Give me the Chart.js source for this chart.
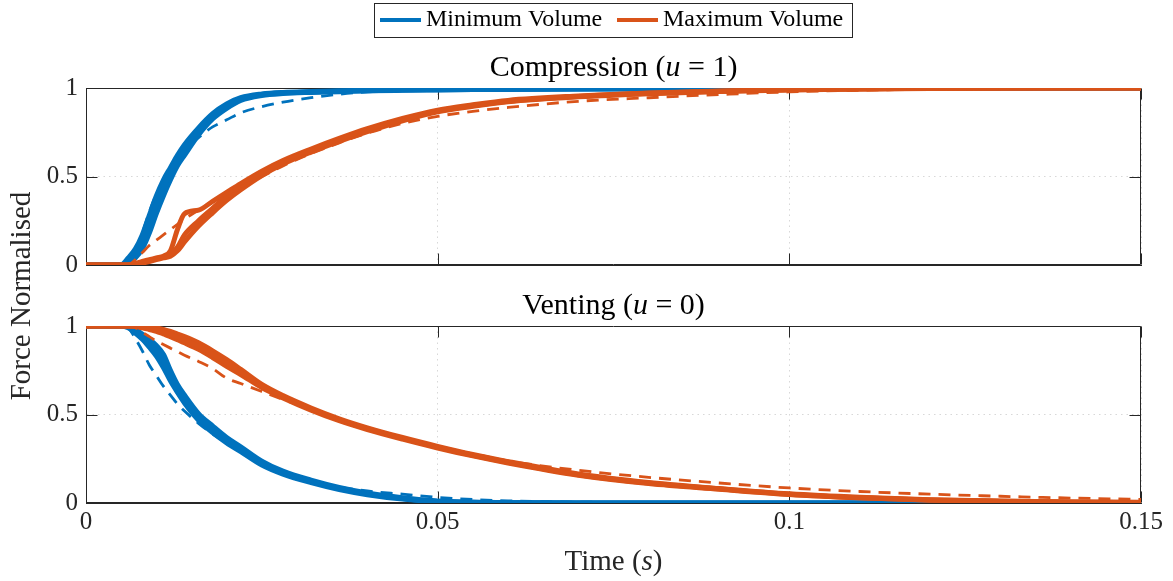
<!DOCTYPE html>
<html>
<head>
<meta charset="utf-8">
<title>Force response: compression and venting</title>
<script src="https://cdn.jsdelivr.net/npm/chart.js@4.4.1/dist/chart.umd.min.js"></script>
<style>
  html, body { margin: 0; padding: 0; background: #ffffff; }
  #wrap { position: relative; width: 1173px; height: 581px; background: #ffffff; }
  #wrap canvas { position: absolute; left: 0; top: 0; }
</style>
</head>
<body>
<div id="wrap">
  <canvas id="compression" width="1173" height="581"></canvas>
  <canvas id="venting" width="1173" height="581"></canvas>
</div>
<script>
// ---- sample times (s) ----
const timeS = [0, 0.005, 0.006, 0.007, 0.008, 0.009, 0.010, 0.011, 0.012, 0.013, 0.014,
  0.016, 0.018, 0.020, 0.022, 0.025, 0.028, 0.032, 0.036, 0.040, 0.045, 0.05, 0.055,
  0.06, 0.07, 0.08, 0.09, 0.10, 0.11, 0.12, 0.13, 0.14, 0.15];

// ---- compression (u = 1): measured trials and model ----
const compMinTrial1 = [0, 0, 0.02, 0.06, 0.13, 0.23, 0.34, 0.44, 0.52, 0.59, 0.65, 0.755, 0.84, 0.90, 0.94, 0.963, 0.972, 0.977, 0.981, 0.985, 0.988, 0.99, 0.992, 0.993, 0.995, 0.996, 0.997, 0.998, 0.999, 1, 1, 1, 1];
const compMinTrial2 = [0, 0.002, 0.04, 0.09, 0.17, 0.28, 0.39, 0.48, 0.55, 0.62, 0.68, 0.775, 0.855, 0.91, 0.945, 0.966, 0.975, 0.98, 0.984, 0.987, 0.99, 0.992, 0.993, 0.994, 0.996, 0.997, 0.998, 0.999, 1, 1, 1, 1, 1];
const compMinTrial3 = [0, 0, 0.01, 0.04, 0.09, 0.18, 0.29, 0.39, 0.48, 0.56, 0.62, 0.735, 0.825, 0.885, 0.93, 0.958, 0.969, 0.975, 0.979, 0.984, 0.987, 0.989, 0.991, 0.992, 0.994, 0.995, 0.996, 0.997, 0.998, 0.999, 1, 1, 1];
const compMinModel  = [0, 0, 0.01, 0.08, 0.18, 0.30, 0.40, 0.47, 0.54, 0.60, 0.65, 0.72, 0.78, 0.82, 0.86, 0.895, 0.92, 0.945, 0.965, 0.978, 0.987, 0.992, 0.995, 0.997, 0.999, 1, 1, 1, 1, 1, 1, 1, 1];

const compMaxTrial1 = [0, 0, 0, 0.006, 0.015, 0.025, 0.035, 0.045, 0.06, 0.10, 0.17, 0.25, 0.32, 0.39, 0.45, 0.52, 0.58, 0.645, 0.705, 0.76, 0.82, 0.87, 0.90, 0.925, 0.952, 0.97, 0.981, 0.99, 0.995, 0.998, 1, 1, 1];
const compMaxTrial2 = [0, 0, 0, 0.008, 0.02, 0.03, 0.04, 0.05, 0.08, 0.20, 0.29, 0.31, 0.36, 0.41, 0.46, 0.53, 0.59, 0.655, 0.715, 0.77, 0.828, 0.875, 0.905, 0.93, 0.955, 0.972, 0.983, 0.991, 0.996, 0.999, 1, 1, 1];
const compMaxTrial3 = [0, 0, 0, 0.004, 0.01, 0.02, 0.03, 0.04, 0.05, 0.08, 0.13, 0.22, 0.295, 0.365, 0.425, 0.505, 0.57, 0.638, 0.698, 0.753, 0.815, 0.866, 0.897, 0.922, 0.95, 0.968, 0.98, 0.989, 0.994, 0.997, 0.999, 1, 1];
const compMaxModel  = [0, 0, 0, 0.03, 0.07, 0.11, 0.14, 0.17, 0.20, 0.23, 0.26, 0.31, 0.36, 0.40, 0.44, 0.50, 0.56, 0.63, 0.69, 0.745, 0.80, 0.84, 0.868, 0.89, 0.925, 0.945, 0.963, 0.978, 0.987, 0.993, 0.997, 0.999, 1];

// ---- venting (u = 0): measured trials and model ----
const ventMinTrial1 = [1, 1, 0.995, 0.97, 0.94, 0.90, 0.86, 0.80, 0.72, 0.645, 0.585, 0.485, 0.415, 0.355, 0.305, 0.225, 0.172, 0.122, 0.082, 0.052, 0.026, 0.009, 0.003, 0.001, 0, 0, 0, 0, 0, 0, 0, 0, 0];
const ventMinTrial2 = [1, 1, 1, 0.98, 0.955, 0.925, 0.89, 0.84, 0.75, 0.67, 0.61, 0.505, 0.435, 0.37, 0.318, 0.237, 0.18, 0.129, 0.088, 0.057, 0.03, 0.012, 0.005, 0.002, 0, 0, 0, 0, 0, 0, 0, 0, 0];
const ventMinTrial3 = [1, 1, 0.99, 0.96, 0.925, 0.88, 0.83, 0.765, 0.69, 0.625, 0.565, 0.468, 0.398, 0.34, 0.29, 0.214, 0.163, 0.115, 0.076, 0.047, 0.022, 0.007, 0.002, 0.001, 0, 0, 0, 0, 0, 0, 0, 0, 0];
const ventMinModel  = [1, 1, 0.99, 0.93, 0.86, 0.78, 0.72, 0.66, 0.61, 0.56, 0.52, 0.45, 0.39, 0.34, 0.29, 0.225, 0.175, 0.125, 0.09, 0.068, 0.05, 0.032, 0.02, 0.012, 0.005, 0.002, 0, 0, 0, 0, 0, 0, 0];

const ventMaxTrial1 = [1, 1, 1, 1, 0.995, 0.99, 0.98, 0.965, 0.95, 0.935, 0.92, 0.885, 0.84, 0.79, 0.74, 0.66, 0.60, 0.53, 0.47, 0.42, 0.365, 0.315, 0.27, 0.23, 0.16, 0.113, 0.08, 0.05, 0.03, 0.017, 0.01, 0.005, 0.003];
const ventMaxTrial2 = [1, 1, 1, 1, 1, 0.995, 0.99, 0.98, 0.97, 0.955, 0.94, 0.905, 0.86, 0.81, 0.755, 0.67, 0.607, 0.537, 0.476, 0.425, 0.37, 0.32, 0.274, 0.234, 0.164, 0.116, 0.082, 0.052, 0.032, 0.018, 0.011, 0.006, 0.004];
const ventMaxTrial3 = [1, 1, 1, 0.998, 0.99, 0.98, 0.97, 0.955, 0.94, 0.922, 0.905, 0.868, 0.822, 0.772, 0.726, 0.652, 0.594, 0.525, 0.465, 0.415, 0.361, 0.311, 0.266, 0.226, 0.157, 0.11, 0.078, 0.048, 0.029, 0.016, 0.009, 0.004, 0.002];
const ventMaxModel  = [1, 1, 1, 0.99, 0.965, 0.94, 0.915, 0.895, 0.875, 0.855, 0.835, 0.80, 0.76, 0.705, 0.675, 0.63, 0.585, 0.53, 0.47, 0.42, 0.368, 0.318, 0.278, 0.238, 0.185, 0.145, 0.113, 0.085, 0.065, 0.05, 0.038, 0.028, 0.02];

// ---- axis ticks ----
const xTickValues = [0, 0.05, 0.1, 0.15];
const xTickLabels = ['0', '0.05', '0.1', '0.15'];
const yTickValues = [0, 0.5, 1];
const yTickLabels = ['0', '0.5', '1'];

// ---- legend entries ----
const legendLabels = ['Minimum Volume', 'Maximum Volume'];

// ---- style ----
const BLUE = '#0072BD';
const ORANGE = '#D95319';
const AXIS_COLOR = '#262626';
const GRID_COLOR = 'rgba(38,38,38,0.18)';
const FAMILY = '"Liberation Serif", "Times New Roman", serif';

function pts(values) {
  return timeS.map((t, i) => ({ x: t, y: values[i] }));
}
function trial(values, color) {
  return { data: pts(values), borderColor: color, borderWidth: 5, pointRadius: 0,
           fill: false, cubicInterpolationMode: 'monotone', borderJoinStyle: 'round' };
}
function model(values, color) {
  return { data: pts(values), borderColor: color, borderWidth: 2.8, pointRadius: 0,
           fill: false, borderDash: [12, 8], cubicInterpolationMode: 'monotone' };
}

// Rich text: list of [text, italic] pieces, centred at (cx, cy)
function drawRich(ctx, parts, cx, cy, size, color) {
  let total = 0;
  const widths = parts.map(p => {
    ctx.font = (p[1] ? 'italic ' : '') + size + 'px ' + FAMILY;
    const w = ctx.measureText(p[0]).width;
    total += w;
    return w;
  });
  let x = cx - total / 2;
  ctx.fillStyle = color;
  ctx.textAlign = 'left';
  ctx.textBaseline = 'middle';
  parts.forEach((p, i) => {
    ctx.font = (p[1] ? 'italic ' : '') + size + 'px ' + FAMILY;
    ctx.fillText(p[0], x, cy);
    x += widths[i];
  });
}

// Box frame, inward ticks and panel texts
const panelDecor = {
  id: 'panelDecor',
  beforeDatasetsDraw(chart, args, opts) {
    const ctx = chart.ctx;
    const a = chart.chartArea;
    const xs = chart.scales.x, ys = chart.scales.y;
    const L = Math.round(a.left) + 0.5, R = Math.round(a.right) - 0.5;
    const T = Math.round(a.top) + 0.5, B = Math.round(a.bottom) - 0.5;
    ctx.save();
    ctx.strokeStyle = AXIS_COLOR;
    ctx.lineWidth = 1;
    ctx.beginPath();
    ctx.rect(L, T, R - L, B - T);
    xTickValues.forEach(v => {
      const px = Math.round(xs.getPixelForValue(v)) + 0.5;
      ctx.moveTo(px, B); ctx.lineTo(px, B - 11);
      ctx.moveTo(px, T); ctx.lineTo(px, T + 11);
    });
    yTickValues.forEach(v => {
      const py = Math.round(ys.getPixelForValue(v)) + 0.5;
      ctx.moveTo(L, py); ctx.lineTo(L + 11, py);
      ctx.moveTo(R, py); ctx.lineTo(R - 11, py);
    });
    ctx.stroke();
    ctx.restore();
  },
  afterDraw(chart, args, opts) {
    const ctx = chart.ctx;
    const a = chart.chartArea;
    const cx = (a.left + a.right) / 2;
    ctx.save();
    if (opts.title) drawRich(ctx, opts.title, cx, a.top - 20, 30, '#000000');
    if (opts.xLabel) drawRich(ctx, opts.xLabel, cx, 562, 29, AXIS_COLOR);
    if (opts.yLabel) {
      ctx.save();
      ctx.translate(22, 296);
      ctx.rotate(-Math.PI / 2);
      drawRich(ctx, [[opts.yLabel, false]], 0, 0, 29, AXIS_COLOR);
      ctx.restore();
    }
    if (opts.legend) {
      // legend box
      ctx.fillStyle = '#ffffff';
      ctx.fillRect(374.5, 3.5, 478, 34);
      ctx.strokeStyle = AXIS_COLOR;
      ctx.lineWidth = 1;
      ctx.strokeRect(374.5, 3.5, 478, 34);
      const ly = 20;
      const entries = [[BLUE, 380, legendLabels[0]], [ORANGE, 617, legendLabels[1]]];
      entries.forEach(e => {
        ctx.strokeStyle = e[0];
        ctx.lineWidth = 4;
        ctx.beginPath();
        ctx.moveTo(e[1], ly); ctx.lineTo(e[1] + 41, ly);
        ctx.stroke();
        ctx.fillStyle = '#000000';
        ctx.font = '24px ' + FAMILY;
        ctx.textAlign = 'left';
        ctx.textBaseline = 'middle';
        ctx.fillText(e[2], e[1] + 46, ly);
      });
    }
    ctx.restore();
  }
};

function axes(showXLabels, xHeight) {
  return {
    x: {
      type: 'linear', min: 0, max: 0.15, position: 'bottom',
      afterBuildTicks: s => { s.ticks = xTickValues.map(v => ({ value: v })); },
      afterFit: s => { s.height = xHeight; },
      ticks: {
        display: showXLabels, padding: 4, color: AXIS_COLOR, maxRotation: 0,
        font: { family: FAMILY, size: 25 },
        callback: (v, i) => xTickLabels[i]
      },
      grid: { drawTicks: false, color: GRID_COLOR, lineWidth: 1 },
      border: { display: true, color: AXIS_COLOR, width: 1, dash: [1.5, 4] }
    },
    y: {
      type: 'linear', min: 0, max: 1, position: 'left',
      afterBuildTicks: s => { s.ticks = yTickValues.map(v => ({ value: v })); },
      afterFit: s => { s.width = 86; },
      ticks: {
        padding: 8, color: AXIS_COLOR,
        font: { family: FAMILY, size: 25 },
        callback: (v, i) => yTickLabels[i]
      },
      grid: { drawTicks: false, color: GRID_COLOR, lineWidth: 1 },
      border: { display: true, color: AXIS_COLOR, width: 1, dash: [1.5, 4] }
    }
  };
}

function baseOptions(padding, showXLabels, xHeight, decor) {
  return {
    responsive: false,
    animation: false,
    devicePixelRatio: 1,
    events: [],
    layout: { padding: padding },
    scales: axes(showXLabels, xHeight),
    plugins: {
      legend: { display: false },
      tooltip: { enabled: false },
      title: { display: false },
      panelDecor: decor
    }
  };
}

// Chart.js paints the first dataset last, so the orange (maximum volume)
// curves are listed first to sit on top of the blue ones.
new Chart(document.getElementById('compression'), {
  type: 'line',
  data: {
    datasets: [
      model(compMaxModel, ORANGE),
      trial(compMaxTrial1, ORANGE), trial(compMaxTrial2, ORANGE), trial(compMaxTrial3, ORANGE),
      model(compMinModel, BLUE),
      trial(compMinTrial1, BLUE), trial(compMinTrial2, BLUE), trial(compMinTrial3, BLUE)
    ]
  },
  options: baseOptions({ left: 0, right: 32, top: 88, bottom: 316 }, false, 0, {
    title: [['Compression (', false], ['u', true], [' = 1)', false]],
    yLabel: 'Force Normalised',
    legend: true
  }),
  plugins: [panelDecor]
});

new Chart(document.getElementById('venting'), {
  type: 'line',
  data: {
    datasets: [
      model(ventMaxModel, ORANGE),
      trial(ventMaxTrial1, ORANGE), trial(ventMaxTrial2, ORANGE), trial(ventMaxTrial3, ORANGE),
      model(ventMinModel, BLUE),
      trial(ventMinTrial1, BLUE), trial(ventMinTrial2, BLUE), trial(ventMinTrial3, BLUE)
    ]
  },
  options: baseOptions({ left: 0, right: 32, top: 326, bottom: 0 }, true, 78, {
    title: [['Venting (', false], ['u', true], [' = 0)', false]],
    xLabel: [['Time (', false], ['s', true], [')', false]]
  }),
  plugins: [panelDecor]
});
</script>
</body>
</html>
